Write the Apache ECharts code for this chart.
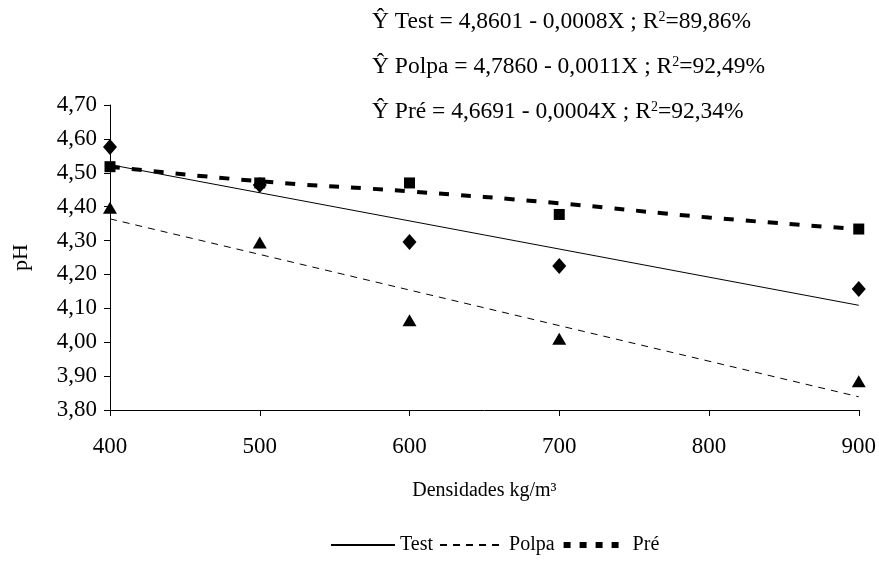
<!DOCTYPE html>
<html>
<head>
<meta charset="utf-8">
<script src="https://cdn.jsdelivr.net/npm/echarts@6/dist/echarts.min.js"></script>
<style>
html, body { margin: 0; padding: 0; background: #fff; }
#chart { width: 879px; height: 565px; }
</style>
</head>
<body>
<div id="chart"></div>
<script>
// densidades (kg/m3)
var densidades = [400, 500, 600, 700, 900];
// pH observado
var testObs = [4.576, 4.464, 4.296, 4.225, 4.157];
var polpaObs = [4.397, 4.294, 4.065, 4.01, 3.885];
var preObs = [4.518, 4.47, 4.47, 4.377, 4.334];
// linhas de tendencia
var testFitX = [400, 900];
var testFit = [4.524, 4.109];
var polpaFitX = [400, 900];
var polpaFit = [4.364, 3.839];
var preFitX = [400, 500, 600, 700, 800, 900];
var preFit = [4.518, 4.475, 4.445, 4.41, 4.368, 4.334];
var yTicks = [3.8, 4.7];
var equacoes = [
	['Test', '4,8601 - 0,0008X', '89,86%'],
	['Polpa', '4,7860 - 0,0011X', '92,49%'],
	['Pré', '4,6691 - 0,0004X', '92,34%']
];

function pares(xs, ys) {
	return xs.map(function(x, i) { return [x, ys[i]]; });
}

var fonte = 'Liberation Serif';
var myChart = echarts.init(document.getElementById('chart'));

var textos = equacoes.map(function(e, i) {
	return {
		type: 'text',
		left: 372,
		top: 10 + i * 45,
		style: {
			text: '{n|Ŷ ' + e[0] + ' = ' + e[1] + ' ; R}{s|2}{n|=' + e[2] + '}',
			rich: {
				n: { fontFamily: fonte, fontSize: 23.5, fill: '#000' },
				s: { fontFamily: fonte, fontSize: 14, fill: '#000', verticalAlign: 'top', padding: [0, 0, 10, 0] }
			}
		}
	};
});

var option = {
	backgroundColor: '#fff',
	animation: false,
	grid: {
		left: 110,
		right: 19,
		top: 105,
		bottom: 155
	},
	graphic: textos,
	legend: {
		data: [
			{ name: 'Test' },
			{ name: 'Polpa' },
			{ name: 'Pré', lineStyle: { width: 6, type: [7, 9] } }
		],
		bottom: 5,
		left: 325,
		itemWidth: 64,
		itemHeight: 10,
		itemGap: 6,
		itemStyle: { opacity: 0 },
		textStyle: { fontFamily: fonte, fontSize: 20, color: '#000' }
	},
	xAxis: {
		type: 'value',
		min: 400,
		max: 900,
		interval: 100,
		name: 'Densidades kg/m³',
		nameLocation: 'middle',
		nameGap: 71,
		nameTextStyle: { fontFamily: fonte, fontSize: 20, color: '#000' },
		axisLine: { lineStyle: { color: '#000', width: 1 } },
		axisTick: { length: 6, lineStyle: { color: '#000' } },
		axisLabel: { fontFamily: fonte, fontSize: 23, color: '#000', margin: 25 },
		splitLine: { show: false }
	},
	yAxis: {
		type: 'value',
		min: yTicks[0],
		max: yTicks[1],
		interval: 0.1,
		name: 'pH',
		nameLocation: 'middle',
		nameGap: 78,
		nameTextStyle: { fontFamily: fonte, fontSize: 22, color: '#000' },
		axisLine: { show: true, lineStyle: { color: '#000', width: 1 } },
		axisTick: { show: true, length: 6, lineStyle: { color: '#000' } },
		axisLabel: {
			fontFamily: fonte, fontSize: 23, color: '#000', margin: 13,
			formatter: function(v) { return v.toFixed(2).replace('.', ','); }
		},
		splitLine: { show: false }
	},
	series: [
		{
			name: 'Test',
			type: 'line',
			data: pares(testFitX, testFit),
			symbol: 'none',
			lineStyle: { color: '#000', width: 1, type: 'solid' },
			itemStyle: { color: '#000' }
		},
		{
			name: 'Polpa',
			type: 'line',
			data: pares(polpaFitX, polpaFit),
			symbol: 'none',
			lineStyle: { color: '#000', width: 1, type: [7, 6] },
			itemStyle: { color: '#000' }
		},
		{
			name: 'Pré',
			type: 'line',
			data: pares(preFitX, preFit),
			smooth: true,
			symbol: 'none',
			lineStyle: { color: '#000', width: 4, type: [10, 12] },
			itemStyle: { color: '#000' }
		},
		{
			name: 'Test obs',
			type: 'scatter',
			data: pares(densidades, testObs),
			symbol: 'diamond',
			symbolSize: [14, 16],
			itemStyle: { color: '#000', opacity: 1 }
		},
		{
			name: 'Polpa obs',
			type: 'scatter',
			data: pares(densidades, polpaObs),
			symbol: 'triangle',
			symbolSize: [14, 12],
			itemStyle: { color: '#000', opacity: 1 }
		},
		{
			name: 'Pré obs',
			type: 'scatter',
			data: pares(densidades, preObs),
			symbol: 'rect',
			symbolSize: 11,
			itemStyle: { color: '#000', opacity: 1 }
		}
	]
};
myChart.setOption(option);
</script>
</body>
</html>
